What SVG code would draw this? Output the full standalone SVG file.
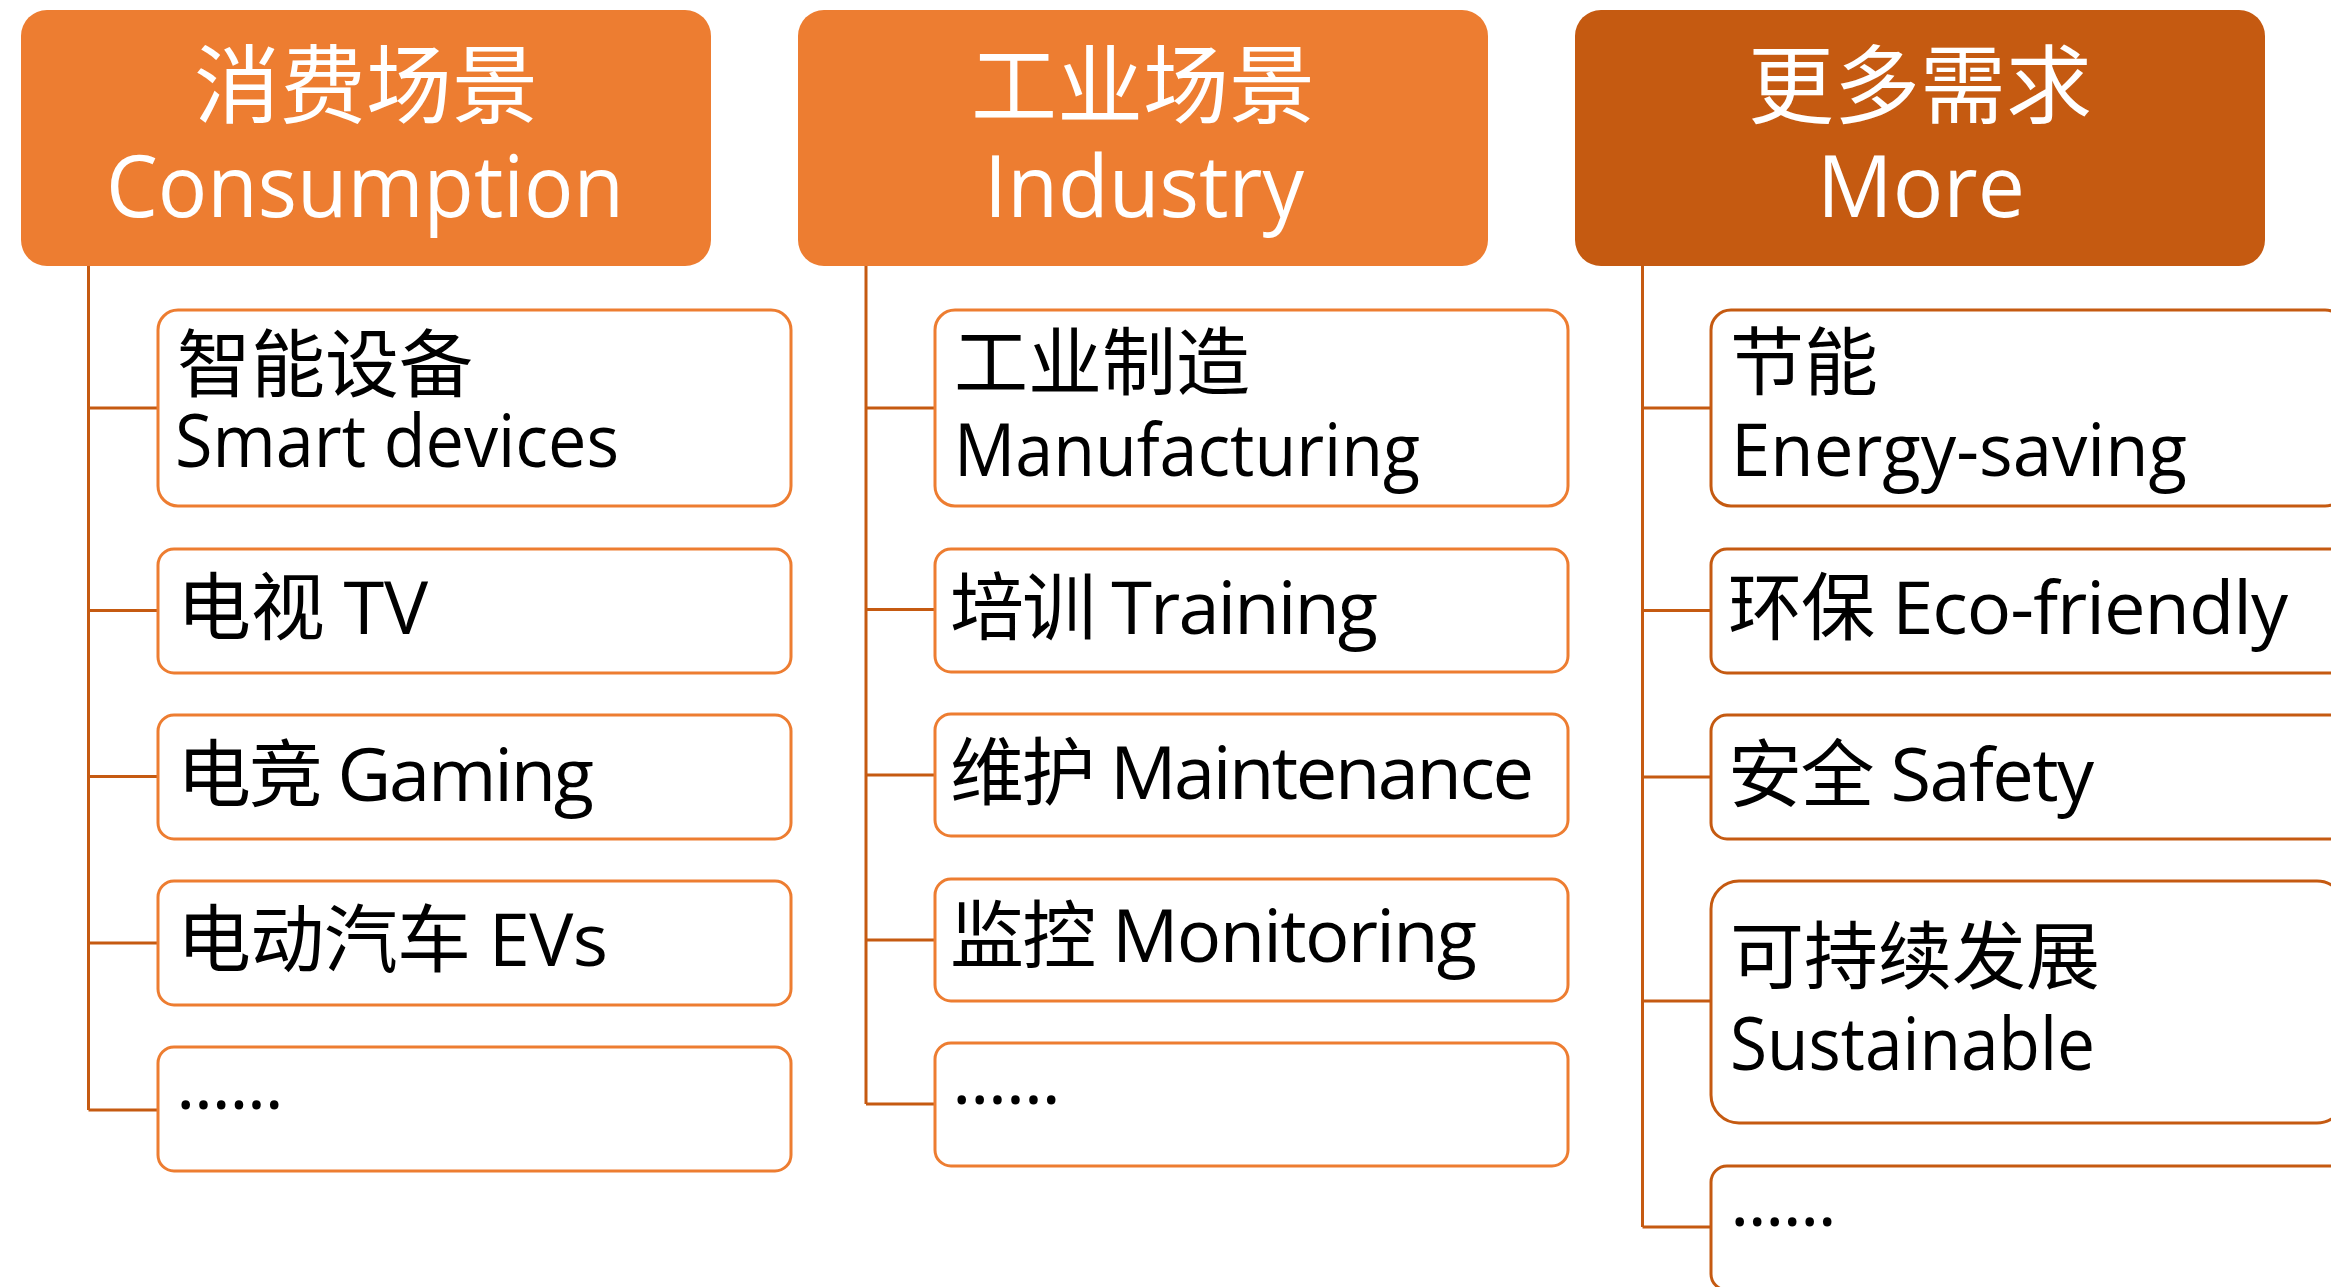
<svg xmlns="http://www.w3.org/2000/svg" width="2331" height="1287" viewBox="0 0 2331 1287">
<style>
text{font-family:"Open Sans","Noto Sans CJK SC",sans-serif;}
.hd{fill:#ED7D31;}
.hd3{fill:#C55A11;}
.ht{fill:#FFFFFF;font-size:86px;}
.bx{fill:#FFFFFF;stroke:#ED7D31;stroke-width:3;}
.bx3{fill:#FFFFFF;stroke:#C55A11;stroke-width:3;}
.ct{fill:#000000;font-size:74px;}
.cn{fill:none;stroke:#C55A11;stroke-width:3;}
</style>
<rect width="2331" height="1287" fill="#FFFFFF"/>
<g id="connectors">
<path class="cn" d="M88.5,266 V1110 M88.5,408 H157 M88.5,610.5 H157 M88.5,776.5 H157 M88.5,943 H157 M88.5,1110 H157"/>
<path class="cn" d="M866,266 V1104 M866,408 H935 M866,609.5 H935 M866,775 H935 M866,940 H935 M866,1104 H935"/>
<path class="cn" d="M1642.5,266 V1227 M1642.5,408 H1711 M1642.5,610.5 H1711 M1642.5,777 H1711 M1642.5,1001 H1711 M1642.5,1227 H1711"/>
</g>
<g id="header-consumption">
<rect class="hd" x="21" y="10" width="690" height="256" rx="26"/>
<text class="ht" x="366" y="117" text-anchor="middle">消费场景</text>
<text class="ht" x="106" y="217" textLength="518" lengthAdjust="spacingAndGlyphs">Consumption</text>
</g>
<g id="header-industry">
<rect class="hd" x="798" y="10" width="690" height="256" rx="26"/>
<text class="ht" x="1143" y="117" text-anchor="middle">工业场景</text>
<text class="ht" x="984" y="217" textLength="320" lengthAdjust="spacingAndGlyphs">Industry</text>
</g>
<g id="header-more">
<rect class="hd3" x="1575" y="10" width="690" height="256" rx="26"/>
<text class="ht" x="1920" y="117" text-anchor="middle">更多需求</text>
<text class="ht" x="1817" y="217" textLength="208" lengthAdjust="spacingAndGlyphs">More</text>
</g>
<g id="c1-smart">
<rect class="bx" x="158" y="310" width="633" height="196" rx="20"/>
<text class="ct" x="177" y="391">智能设备</text>
<text class="ct" x="175" y="467" textLength="444" lengthAdjust="spacingAndGlyphs">Smart devices</text>
</g>
<g id="c1-tv">
<rect class="bx" x="158" y="549" width="633" height="124" rx="16"/>
<text class="ct" x="177" y="634" textLength="251">电视 TV</text>
</g>
<g id="c1-gaming">
<rect class="bx" x="158" y="715" width="633" height="124" rx="16"/>
<text class="ct" x="177" y="801" textLength="417">电竞 Gaming</text>
</g>
<g id="c1-evs">
<rect class="bx" x="158" y="881" width="633" height="124" rx="16"/>
<text class="ct" x="177" y="966" textLength="431">电动汽车 EVs</text>
</g>
<g id="c1-more">
<rect class="bx" x="158" y="1047" width="633" height="124" rx="16"/>
<text class="ct" x="176" y="1109" textLength="108">......</text>
</g>
<g id="c2-manufacturing">
<rect class="bx" x="935" y="310" width="633" height="196" rx="20"/>
<text class="ct" x="954" y="389">工业制造</text>
<text class="ct" x="954" y="476" textLength="466" lengthAdjust="spacingAndGlyphs">Manufacturing</text>
</g>
<g id="c2-training">
<rect class="bx" x="935" y="549" width="633" height="123" rx="16"/>
<text class="ct" x="950" y="634" textLength="428">培训 Training</text>
</g>
<g id="c2-maintenance">
<rect class="bx" x="935" y="714" width="633" height="122" rx="16"/>
<text class="ct" x="950" y="799" textLength="584">维护 Maintenance</text>
</g>
<g id="c2-monitoring">
<rect class="bx" x="935" y="879" width="633" height="122" rx="16"/>
<text class="ct" x="950" y="962" textLength="527">监控 Monitoring</text>
</g>
<g id="c2-more">
<rect class="bx" x="935" y="1043" width="633" height="123" rx="16"/>
<text class="ct" x="952" y="1104" textLength="109">......</text>
</g>
<g id="c3-energy">
<rect class="bx3" x="1711" y="310" width="634" height="196" rx="20"/>
<text class="ct" x="1730" y="389">节能</text>
<text class="ct" x="1731" y="476" textLength="456" lengthAdjust="spacingAndGlyphs">Energy-saving</text>
</g>
<g id="c3-eco">
<rect class="bx3" x="1711" y="549" width="634" height="124" rx="16"/>
<text class="ct" x="1728" y="634" textLength="560">环保 Eco-friendly</text>
</g>
<g id="c3-safety">
<rect class="bx3" x="1711" y="715" width="634" height="124" rx="16"/>
<text class="ct" x="1728" y="801" textLength="366">安全 Safety</text>
</g>
<g id="c3-sustainable">
<rect class="bx3" x="1711" y="881" width="634" height="242" rx="28"/>
<text class="ct" x="1730" y="983">可持续发展</text>
<text class="ct" x="1730" y="1070" textLength="365" lengthAdjust="spacingAndGlyphs">Sustainable</text>
</g>
<g id="c3-more">
<rect class="bx3" x="1711" y="1166" width="634" height="124" rx="16"/>
<text class="ct" x="1730" y="1226" textLength="107">......</text>
</g>
</svg>
